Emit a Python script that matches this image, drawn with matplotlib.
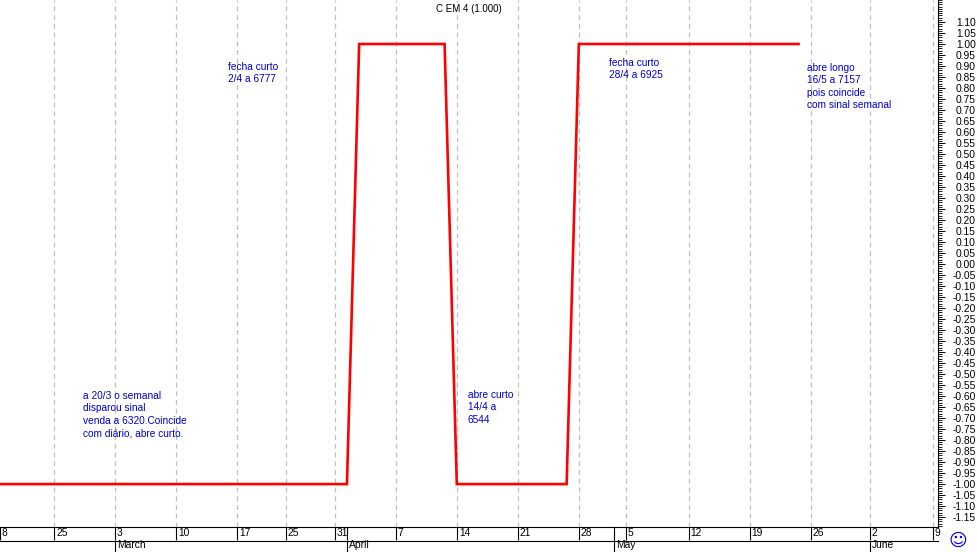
import matplotlib
matplotlib.use('Agg')
import numpy as np
import matplotlib.pyplot as plt
from matplotlib.ticker import MultipleLocator
from matplotlib.transforms import ScaledTranslation

plt.rcParams['font.family'] = ['Liberation Sans', 'DejaVu Sans']

# x is in trading sessions counted from the "25" tick
line_x = [-5, 24, 25, 32, 33, 42, 43, 61]
line_y = [-1, -1, 1, 1, -1, -1, 1, 1]

week_pos = [-4.43, 0, 5, 10, 15, 19, 23, 28, 33, 38, 43, 46.85, 52, 57, 62, 66.85, 72]
week_labels = ['8', '25', '3', '10', '17', '25', '31', '7', '14', '21', '28', '5', '12', '19', '26', '2', '9']
sep_pos = [24, 45.9]
month_pos = [5, 24, 45.9, 66.85]
month_labels = ['March', 'April', 'May', 'June']

y_ticks = np.arange(-23, 23) * 0.05

notes = [
    (83, 391, 'a 20/3 o semanal\ndisparou sinal\nvenda a 6320.Coincide\ncom diário, abre curto.'),
    (228, 62, 'fecha curto\n2/4 a 6777'),
    (468, 390, 'abre curto\n14/4 a\n6544'),
    (609, 58, 'fecha curto\n28/4 a 6925'),
    (807, 63, 'abre longo\n16/5 a 7157\npois coincide\ncom sinal semanal'),
]

W, H = 978, 552
fig = plt.figure(figsize=(W / 100, H / 100), dpi=100)
ax = fig.add_axes([0, (H - 527) / H, 938 / W, 527 / H])
ax.set_xlim(-4.43, 72.43)
ax.set_ylim(-1.195, 1.2)

ax.plot(line_x, line_y, color='#ff0000', lw=1.9, solid_joinstyle='miter', zorder=3)

for s in ['top', 'left']:
    ax.spines[s].set_visible(False)
ax.spines['right'].set_linewidth(0.8)
ax.spines['bottom'].set_linewidth(0.8)

# right hand scale
ax.yaxis.tick_right()
ax.set_yticks(y_ticks)
ax.set_yticklabels(['%.2f' % v if v < 1.12 else '' for v in y_ticks])
ax.yaxis.set_minor_locator(MultipleLocator(0.01))
ax.tick_params(axis='y', which='major', length=5, width=0.7, pad=7, labelsize=7.4, colors='black')
ax.tick_params(axis='y', which='minor', length=3, width=0.6)
for lab in ax.get_yticklabels():
    lab.set_ha('right')
    lab.set_transform(lab.get_transform() + ScaledTranslation(21 / 100, 0, fig.dpi_scale_trans))

# weeks row
ax.set_xticks(week_pos + sep_pos[:1])
ax.set_xticklabels(week_labels + [''])
ax.tick_params(axis='x', length=9.4, width=0.8, pad=-8.5, labelsize=7.4, direction='out')
off = ScaledTranslation(2 / 100, 0, fig.dpi_scale_trans)
for lab in ax.get_xticklabels():
    lab.set_ha('left')
    lab.set_transform(lab.get_transform() + off)

ax.vlines(week_pos[1:], -1.195, 1.2, color='#c0c0c0', lw=0.9, linestyles=(0, (4, 3)), zorder=1)
ax.axvline(45.9, ymin=-13 / 527, ymax=0, color='black', lw=0.8, clip_on=False)

# months row
sec = ax.secondary_xaxis(-13.5 / 527)
sec.set_xticks(month_pos)
sec.set_xticklabels(month_labels)
sec.tick_params(axis='x', length=9, width=0.8, pad=-9.5, labelsize=7.4)
sec.spines['bottom'].set_linewidth(0.8)
for lab in sec.get_xticklabels():
    lab.set_ha('left')
    lab.set_transform(lab.get_transform() + off)

fig.text(469 / W, 1 - 9 / H, 'C EM 4 (1.000)', ha='center', va='center', fontsize=7, color='black')
for x, y, txt in notes:
    fig.text(x / W, 1 - y / H, txt, ha='left', va='top', fontsize=7.3, color='#0000cc', linespacing=1.3)
fig.text(958 / W, 1 - 541 / H, '\u263a', ha='center', va='center', fontsize=13, color='#0000ff',
         family='DejaVu Sans')

fig.savefig('out.png', dpi=100)
